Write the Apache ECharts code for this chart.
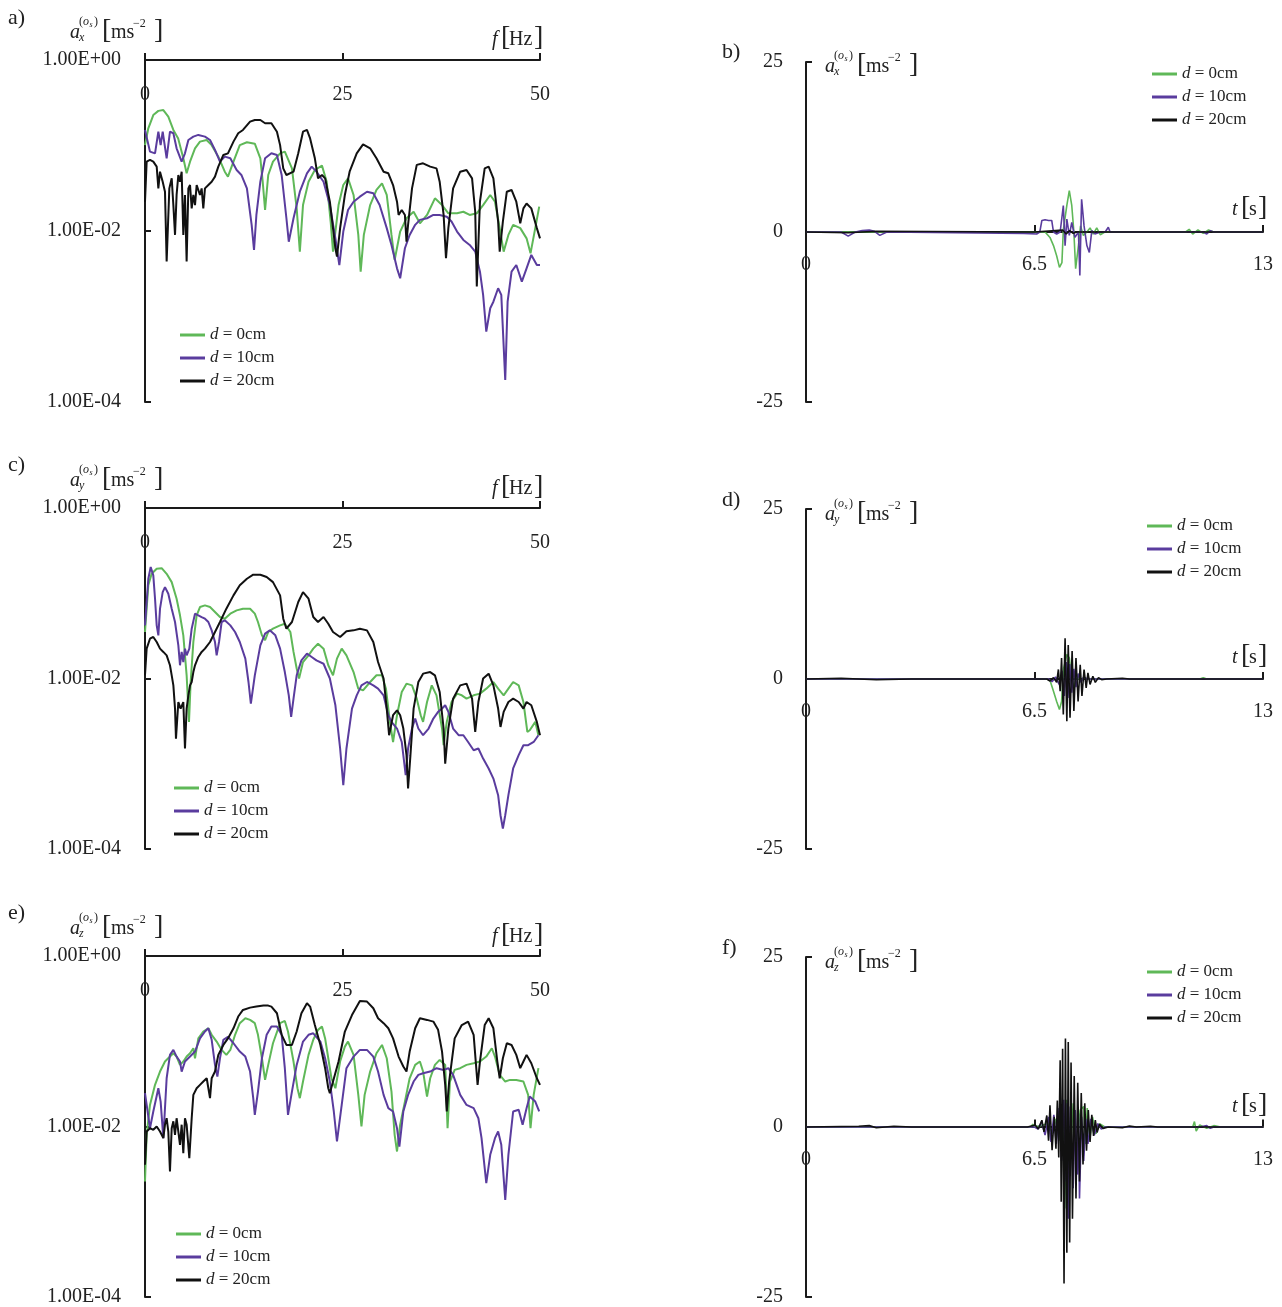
<!DOCTYPE html>
<html><head><meta charset="utf-8">
<script src="https://cdn.jsdelivr.net/npm/echarts@6/dist/echarts.min.js"></script>
<style>html,body{margin:0;padding:0;background:#fff;}#c{width:1282px;height:1307px;}</style>
</head><body><div id="c"></div>
<script>
// ---------- tick labels ----------
const freqTicks = [0, 25, 50];
const timeTicks = [0, 6.5, 13];
const logTicks = [1e-4, 1e-2, 1];
const accTicks = [-25, 0, 25];
const seriesNames = ['d = 0cm', 'd = 10cm', 'd = 20cm'];

// ---------- a) a_x spectrum [f Hz, amplitude] ----------
const aX_d0 = [[0,0.101],[0.42,0.159],[1.05,0.227],[1.69,0.254],[2.32,0.26],[2.95,0.218],[3.59,0.152],[4.2,0.121],[4.85,0.0708],[5.27,0.0473],[5.7,0.0647],[6.33,0.0927],[6.96,0.111],[7.8,0.116],[8.44,0.101],[9.28,0.0741],[10.1,0.0494],[10.5,0.0432],[11.2,0.0647],[12.0,0.101],[12.9,0.109],[13.9,0.105],[14.6,0.0708],[14.9,0.0377],[15.2,0.0176],[15.6,0.0452],[16.2,0.0647],[17.1,0.081],[17.7,0.0848],[18.6,0.054],[19.2,0.0184],[19.6,0.00574],[20.0,0.0201],[20.7,0.0377],[21.5,0.0517],[22.4,0.0582],[23.0,0.0377],[23.5,0.0129],[23.8,0.00574],[24.5,0.0201],[25.1,0.0345],[25.7,0.0413],[26.4,0.0264],[27.0,0.009],[27.3,0.00335],[27.7,0.009],[28.5,0.0201],[29.3,0.0302],[30.0,0.0361],[30.6,0.0264],[31.2,0.009],[31.6,0.00458],[32.3,0.00985],[33.1,0.0141],[34.0,0.0168],[34.8,0.0123],[35.7,0.0154],[36.7,0.0241],[37.6,0.0201],[38.4,0.0161],[39.5,0.0161],[40.3,0.0168],[41.1,0.0154],[42.0,0.0161],[42.8,0.0201],[43.7,0.0264],[44.3,0.022],[44.9,0.0108],[45.4,0.00574],[46.0,0.009],[46.6,0.0118],[47.5,0.0108],[48.3,0.0082],[48.8,0.00548],[49.4,0.0108],[49.9,0.0193]];
const aX_d10 = [[0,0.152],[0.63,0.0848],[1.27,0.081],[1.69,0.145],[1.98,0.101],[2.24,0.145],[2.74,0.0708],[3.16,0.145],[3.59,0.139],[4.0,0.0927],[4.64,0.0647],[5.06,0.081],[5.49,0.116],[6.12,0.127],[6.75,0.133],[7.59,0.127],[8.23,0.116],[8.86,0.0887],[9.49,0.0647],[10.1,0.0741],[10.8,0.0708],[11.6,0.0517],[12.2,0.0452],[12.9,0.0315],[13.5,0.0118],[13.8,0.006],[14.1,0.0154],[14.6,0.0377],[15.2,0.0708],[16.0,0.081],[16.7,0.0775],[17.3,0.0452],[17.9,0.0141],[18.2,0.0075],[18.8,0.0141],[19.6,0.0288],[20.5,0.0473],[21.1,0.0566],[21.7,0.0494],[22.6,0.0377],[23.4,0.0201],[24.1,0.0082],[24.6,0.004],[25.1,0.00985],[25.7,0.0176],[26.4,0.022],[27.2,0.0252],[28.1,0.0288],[28.9,0.0276],[29.7,0.0201],[30.6,0.0108],[31.2,0.00687],[31.9,0.00366],[32.3,0.0028],[32.9,0.00628],[33.5,0.009],[34.2,0.0118],[34.8,0.0135],[35.7,0.0141],[36.5,0.0154],[37.3,0.0154],[38.2,0.0147],[38.8,0.0129],[39.5,0.00985],[40.3,0.00786],[41.1,0.00687],[41.8,0.00574],[42.4,0.00335],[42.8,0.00179],[43.2,0.000665],[43.7,0.00125],[44.1,0.00149],[44.7,0.00214],[45.1,0.00179],[45.6,0.000181],[45.9,0.00149],[46.4,0.00335],[47.0,0.004],[47.7,0.00256],[48.3,0.00366],[48.9,0.00525],[49.6,0.004],[50,0.004]];
const aX_d20 = [[0,0.022],[0.21,0.0647],[0.63,0.0678],[1.05,0.0647],[1.48,0.0566],[1.69,0.0315],[1.9,0.0494],[2.24,0.0377],[2.53,0.0288],[2.74,0.00439],[3.08,0.0315],[3.38,0.0413],[3.59,0.0201],[3.8,0.009],[4.0,0.0264],[4.22,0.0452],[4.43,0.0377],[4.64,0.0494],[4.85,0.009],[5.06,0.0264],[5.27,0.00439],[5.49,0.0315],[5.7,0.0345],[5.91,0.0184],[6.12,0.0264],[6.33,0.0201],[6.54,0.0345],[6.96,0.0264],[7.17,0.0315],[7.38,0.0184],[7.59,0.0315],[8.02,0.0345],[8.44,0.0377],[8.86,0.0432],[9.28,0.0566],[9.92,0.0775],[10.5,0.081],[11.2,0.111],[11.8,0.139],[12.4,0.152],[13.3,0.19],[13.9,0.199],[14.6,0.199],[15.2,0.182],[16.0,0.182],[16.7,0.145],[17.1,0.101],[17.5,0.054],[17.9,0.0452],[18.8,0.0494],[19.4,0.081],[20.0,0.145],[20.5,0.152],[20.9,0.121],[21.5,0.0708],[21.9,0.0413],[22.4,0.0452],[22.8,0.0413],[23.4,0.022],[24.1,0.00628],[24.3,0.00501],[24.7,0.0108],[25.3,0.0264],[25.9,0.0494],[26.8,0.081],[27.6,0.103],[28.5,0.0927],[29.3,0.0708],[30.2,0.0494],[30.8,0.0473],[31.4,0.0345],[31.9,0.022],[32.1,0.0154],[32.5,0.0176],[32.9,0.0154],[33.1,0.0075],[33.3,0.0118],[33.8,0.0315],[34.4,0.0593],[35.2,0.0619],[36.1,0.0566],[36.9,0.054],[37.3,0.0377],[37.8,0.0154],[38.1,0.0048],[38.4,0.0108],[39.0,0.0315],[39.9,0.0494],[40.7,0.0517],[41.4,0.0413],[41.8,0.0168],[42.0,0.00224],[42.4,0.022],[43.0,0.054],[43.5,0.0566],[44.1,0.0413],[44.7,0.0129],[44.9,0.00574],[45.3,0.0129],[45.8,0.0288],[46.4,0.0302],[47.0,0.022],[47.5,0.0123],[47.9,0.0184],[48.3,0.021],[48.9,0.0184],[49.6,0.0108],[50,0.0082]];

// ---------- c) a_y spectrum ----------
const aY_d0 = [[0,0.0351],[0.42,0.124],[0.84,0.169],[1.48,0.194],[2.11,0.197],[2.74,0.169],[3.38,0.135],[4.0,0.0863],[4.43,0.0551],[4.85,0.0321],[5.27,0.0109],[5.57,0.0031],[5.78,0.0091],[6.12,0.0268],[6.54,0.0551],[6.96,0.0689],[7.59,0.0721],[8.23,0.0689],[8.86,0.0603],[9.49,0.0526],[10.1,0.0503],[10.8,0.0576],[11.6,0.063],[12.4,0.0659],[13.3,0.0659],[13.9,0.0576],[14.3,0.046],[14.8,0.0321],[15.2,0.0281],[15.6,0.0351],[16.2,0.0384],[17.1,0.042],[17.7,0.0439],[18.4,0.0351],[18.8,0.0205],[19.2,0.0131],[19.5,0.01],[20.0,0.0156],[20.7,0.0187],[21.3,0.0224],[21.9,0.0256],[22.6,0.0224],[23.2,0.0143],[23.8,0.0109],[24.3,0.0171],[24.9,0.0224],[25.5,0.0187],[26.4,0.0119],[27.0,0.0076],[27.6,0.00727],[28.5,0.0091],[29.3,0.0109],[30.0,0.0109],[30.5,0.0076],[31.0,0.0031],[31.4,0.0018],[31.9,0.00371],[32.5,0.00695],[33.1,0.0087],[33.8,0.0083],[34.4,0.0058],[34.9,0.00371],[35.2,0.0031],[35.7,0.0053],[36.3,0.0083],[36.9,0.00635],[37.6,0.00259],[37.8,0.00165],[38.2,0.0031],[38.8,0.0053],[39.5,0.00665],[40.1,0.00635],[40.7,0.0058],[41.6,0.00635],[42.4,0.00665],[43.2,0.0076],[44.1,0.0091],[44.7,0.0076],[45.4,0.00635],[46.0,0.0076],[46.6,0.0091],[47.3,0.0083],[47.9,0.0053],[48.4,0.00236],[48.7,0.00247],[49.4,0.0031],[49.8,0.00216]];
const aY_d10 = [[0,0.042],[0.42,0.148],[0.72,0.203],[1.05,0.162],[1.27,0.0863],[1.48,0.042],[1.69,0.0321],[1.9,0.0659],[2.24,0.103],[2.53,0.118],[2.95,0.0988],[3.38,0.0659],[3.8,0.046],[4.22,0.0245],[4.43,0.0143],[4.64,0.0205],[4.85,0.0156],[5.06,0.0224],[5.27,0.0187],[5.61,0.0224],[5.91,0.0384],[6.33,0.0576],[6.75,0.0551],[7.17,0.0526],[7.59,0.0503],[8.02,0.046],[8.44,0.0367],[8.86,0.0268],[9.07,0.0187],[9.37,0.0268],[9.7,0.046],[10.1,0.0481],[10.8,0.042],[11.4,0.0351],[12.0,0.0268],[12.7,0.0171],[13.1,0.0091],[13.4,0.00507],[13.9,0.0109],[14.6,0.0245],[15.2,0.0336],[15.8,0.0367],[16.5,0.0321],[17.1,0.0224],[17.7,0.0119],[18.2,0.00635],[18.5,0.00354],[18.8,0.0058],[19.2,0.0109],[19.8,0.0163],[20.5,0.0196],[21.1,0.0179],[21.7,0.0163],[22.6,0.0149],[23.4,0.01],[24.1,0.00485],[24.7,0.00151],[25.1,0.00056],[25.5,0.00151],[26.2,0.00444],[26.8,0.00635],[27.4,0.0083],[28.1,0.0091],[28.9,0.0083],[29.5,0.0076],[30.2,0.00635],[30.8,0.00371],[31.2,0.0031],[31.9,0.00259],[32.5,0.0018],[33.0,0.000734],[33.3,0.00151],[33.8,0.00259],[34.2,0.00339],[34.6,0.00259],[35.2,0.00216],[35.9,0.00259],[36.5,0.00339],[37.1,0.00406],[37.6,0.00444],[38.0,0.00485],[38.4,0.00406],[39.0,0.00259],[39.7,0.00216],[40.3,0.00216],[40.9,0.0018],[41.6,0.00144],[42.2,0.00151],[42.8,0.00115],[43.5,0.00088],[44.1,0.00067],[44.7,0.000428],[45.0,0.000249],[45.3,0.000174],[45.6,0.000249],[46.0,0.000428],[46.6,0.00088],[47.3,0.00126],[47.9,0.00165],[48.5,0.00165],[49.2,0.0018],[49.8,0.00216]];
const aY_d20 = [[0,0.0109],[0.21,0.0224],[0.63,0.0293],[1.05,0.0307],[1.48,0.0268],[1.9,0.0224],[2.32,0.0205],[2.74,0.0187],[3.16,0.0143],[3.38,0.0109],[3.59,0.0083],[3.8,0.00444],[3.92,0.00197],[4.22,0.0053],[4.51,0.00444],[4.85,0.0053],[5.06,0.00151],[5.27,0.00444],[5.49,0.00635],[5.7,0.0083],[5.91,0.0091],[6.12,0.0119],[6.33,0.0143],[6.75,0.0179],[7.17,0.0205],[7.59,0.0224],[8.23,0.0268],[8.86,0.0351],[9.49,0.046],[10.3,0.0659],[11.2,0.0944],[12.0,0.124],[12.9,0.148],[13.7,0.165],[14.6,0.165],[15.4,0.155],[16.2,0.135],[17.1,0.0944],[17.5,0.0503],[17.9,0.0384],[18.6,0.046],[19.4,0.0789],[20.0,0.103],[20.7,0.0863],[21.3,0.0526],[21.9,0.046],[22.6,0.0526],[23.2,0.0439],[23.8,0.0351],[24.7,0.0307],[25.5,0.0358],[26.4,0.0367],[27.2,0.0384],[28.1,0.0367],[28.9,0.0268],[29.5,0.0156],[30.2,0.01],[30.6,0.00444],[30.9,0.00216],[31.4,0.00371],[31.9,0.00424],[32.3,0.00371],[32.7,0.00259],[33.1,0.00126],[33.3,0.000512],[33.6,0.00126],[34.0,0.00444],[34.6,0.0091],[35.2,0.0114],[36.1,0.0119],[36.7,0.0109],[37.3,0.00695],[37.8,0.00259],[38.0,0.001],[38.4,0.00259],[39.0,0.0058],[39.9,0.0083],[40.7,0.0087],[41.4,0.0058],[41.8,0.00236],[42.2,0.0053],[42.8,0.01],[43.5,0.0114],[44.1,0.0083],[44.7,0.00444],[45.0,0.0027],[45.4,0.00406],[46.0,0.0053],[46.6,0.0058],[47.3,0.0053],[47.9,0.00444],[48.3,0.0053],[48.9,0.00485],[49.6,0.0031],[50,0.00216]];

// ---------- e) a_z spectrum ----------
const aZ_d0 = [[0,0.00226],[0.21,0.00798],[0.63,0.0179],[1.27,0.0308],[1.9,0.0441],[2.53,0.0578],[3.16,0.0661],[3.59,0.0723],[4.0,0.0661],[4.43,0.0528],[4.85,0.0578],[5.27,0.0661],[5.7,0.0723],[6.12,0.0828],[6.33,0.0632],[6.75,0.108],[7.38,0.13],[8.02,0.142],[8.44,0.119],[9.07,0.0991],[9.7,0.0791],[10.3,0.0692],[10.8,0.0791],[11.4,0.119],[12.0,0.163],[12.7,0.186],[13.3,0.178],[13.9,0.163],[14.3,0.119],[14.8,0.0632],[15.2,0.0352],[15.6,0.0528],[16.2,0.0947],[17.1,0.163],[17.7,0.173],[18.1,0.13],[18.8,0.0578],[19.3,0.0281],[19.6,0.0215],[20.0,0.0337],[20.7,0.0692],[21.3,0.104],[21.9,0.136],[22.4,0.149],[22.8,0.108],[23.2,0.0632],[23.6,0.0368],[24.1,0.0281],[24.7,0.0578],[25.3,0.0865],[25.7,0.0991],[26.4,0.0692],[27.0,0.0235],[27.4,0.01],[27.8,0.0235],[28.5,0.0441],[29.3,0.0723],[30.0,0.0905],[30.6,0.0632],[31.2,0.0257],[31.6,0.00798],[31.9,0.00509],[32.3,0.0105],[32.9,0.0196],[33.5,0.0368],[34.2,0.0528],[34.8,0.0578],[35.2,0.0441],[35.7,0.0225],[36.1,0.0368],[36.7,0.0528],[37.3,0.0604],[38.0,0.0528],[38.3,0.00955],[38.6,0.0337],[39.2,0.0461],[39.9,0.0483],[40.7,0.0528],[41.6,0.0552],[42.4,0.0578],[43.2,0.0661],[43.9,0.0828],[44.3,0.0661],[44.9,0.0403],[45.6,0.0337],[46.2,0.0352],[47.0,0.0352],[47.9,0.0337],[48.5,0.0235],[48.8,0.00955],[49.2,0.0235],[49.8,0.0483]];
const aZ_d10 = [[0,0.0246],[0.63,0.00955],[1.05,0.015],[1.69,0.0281],[1.98,0.0196],[2.32,0.0073],[2.74,0.0368],[3.16,0.0692],[3.59,0.0791],[4.0,0.0661],[4.43,0.0578],[4.64,0.0441],[5.06,0.0578],[5.7,0.0661],[6.33,0.0757],[6.96,0.108],[7.59,0.13],[8.02,0.142],[8.44,0.104],[8.86,0.0528],[9.16,0.0385],[9.49,0.0632],[9.92,0.104],[10.5,0.113],[11.2,0.0947],[12.0,0.0757],[12.7,0.0661],[13.3,0.0441],[13.7,0.0215],[13.9,0.0137],[14.3,0.0257],[14.8,0.0632],[15.4,0.119],[16.0,0.149],[16.7,0.149],[17.3,0.119],[17.7,0.0483],[18.1,0.0137],[18.6,0.0257],[19.2,0.0528],[20.0,0.0991],[20.7,0.119],[21.3,0.124],[22.2,0.0991],[22.8,0.0632],[23.4,0.0337],[23.9,0.015],[24.3,0.00667],[24.9,0.0179],[25.5,0.0483],[26.4,0.0661],[27.2,0.0791],[28.1,0.0791],[28.9,0.0661],[29.5,0.0441],[30.2,0.0235],[30.8,0.0164],[31.4,0.015],[31.9,0.00955],[32.2,0.00582],[32.7,0.015],[33.3,0.0235],[34.0,0.0337],[34.6,0.0403],[35.2,0.0422],[36.1,0.0441],[36.9,0.0483],[37.8,0.0461],[38.4,0.0483],[39.0,0.0403],[39.9,0.0235],[40.7,0.0179],[41.6,0.0164],[42.2,0.0125],[42.6,0.0073],[43.0,0.00325],[43.2,0.00217],[43.7,0.00466],[44.3,0.0073],[44.7,0.00873],[45.1,0.0061],[45.6,0.00138],[46.0,0.00466],[46.6,0.015],[47.3,0.0157],[47.8,0.0105],[48.3,0.0164],[48.7,0.0225],[49.4,0.0196],[49.9,0.015]];
const aZ_d20 = [[0,0.00356],[0.21,0.00873],[0.63,0.00955],[1.05,0.00914],[1.48,0.01],[1.9,0.00873],[2.32,0.0073],[2.53,0.0105],[2.74,0.0125],[2.95,0.00873],[3.16,0.00297],[3.38,0.00955],[3.59,0.0115],[3.8,0.00798],[4.0,0.0125],[4.22,0.00873],[4.43,0.0061],[4.64,0.0105],[4.85,0.00487],[5.06,0.0125],[5.27,0.0105],[5.61,0.00425],[5.91,0.0125],[6.12,0.0235],[6.54,0.0281],[6.96,0.0308],[7.38,0.0337],[7.81,0.0368],[8.23,0.0215],[8.44,0.0368],[8.86,0.0441],[9.28,0.0692],[9.92,0.0905],[10.5,0.108],[11.2,0.142],[11.8,0.195],[12.4,0.233],[13.3,0.248],[14.1,0.255],[15.0,0.262],[15.6,0.262],[16.0,0.255],[16.7,0.213],[17.3,0.119],[17.9,0.0905],[18.6,0.0905],[19.2,0.13],[19.8,0.213],[20.5,0.279],[20.9,0.255],[21.5,0.155],[22.2,0.0905],[22.8,0.0483],[23.2,0.0281],[23.4,0.0246],[23.8,0.0337],[24.5,0.0578],[25.3,0.13],[26.2,0.203],[27.2,0.297],[28.1,0.292],[28.9,0.244],[29.5,0.186],[30.2,0.163],[30.8,0.142],[31.4,0.108],[32.1,0.0661],[32.7,0.0505],[33.1,0.0441],[33.5,0.0757],[34.2,0.142],[34.8,0.186],[35.7,0.178],[36.5,0.17],[37.1,0.136],[37.6,0.0757],[38.0,0.0308],[38.2,0.015],[38.5,0.0337],[39.2,0.108],[40.1,0.155],[40.9,0.17],[41.6,0.119],[41.9,0.0528],[42.1,0.0308],[42.4,0.0578],[43.0,0.155],[43.5,0.186],[44.1,0.142],[44.6,0.0578],[44.9,0.0368],[45.3,0.0632],[45.8,0.0947],[46.4,0.0905],[47.0,0.0692],[47.5,0.0483],[47.9,0.0578],[48.3,0.0692],[48.9,0.0552],[49.6,0.0368],[50,0.0308]];

// ---------- b) a_x time history [t s, acceleration] ----------
const tX_d0 = [[0,0],[6.8,0],[6.85,-0.1],[6.94,-0.8],[7.04,-2.0],[7.13,-3.5],[7.21,-5.2],[7.28,-4.5],[7.32,0.3],[7.42,3.9],[7.49,6.1],[7.56,3.9],[7.62,0],[7.67,-5.4],[7.75,-2.0],[7.81,0.9],[7.89,-0.5],[7.99,0],[8.08,0.6],[8.17,-0.3],[8.27,0.6],[8.37,-0.4],[8.5,0],[10.8,0],[10.9,0.4],[11.0,-0.3],[11.15,0.3],[11.3,-0.2],[11.45,0.3],[11.6,0],[13,0]];
const tX_d10 = [[0,0],[1.0,0],[1.2,-0.6],[1.4,0],[1.6,0.2],[1.8,0.3],[1.95,0.1],[2.1,-0.5],[2.3,0],[6.2,-0.2],[6.56,-0.3],[6.65,0],[6.71,1.7],[6.8,1.8],[6.9,1.7],[6.99,1.7],[7.04,0],[7.13,-0.3],[7.23,0],[7.32,3.9],[7.37,-2.0],[7.42,1.9],[7.49,-0.5],[7.56,1.4],[7.65,-0.8],[7.75,0],[7.79,-6.4],[7.84,4.8],[7.91,0.9],[7.99,-2.0],[8.06,-3.0],[8.13,0.2],[8.22,-0.3],[8.37,0],[8.51,0],[8.6,0.7],[8.65,0],[11.3,0],[11.4,-0.3],[11.5,0.2],[11.6,0],[13,0]];
const tX_d20 = [[0,0],[1.2,-0.1],[2.0,0.1],[6.5,0],[7.3,0.3],[7.4,-0.3],[7.5,0.2],[7.6,-0.2],[7.7,0],[13,0]];

// ---------- d) a_y time history ----------
const tY_d0 = [[0,0],[6.85,0],[6.94,-0.2],[7.04,-1.8],[7.13,-3.3],[7.21,-4.5],[7.27,-3.3],[7.33,1.6],[7.42,3.6],[7.49,3.1],[7.56,0],[7.62,-1.5],[7.7,0.8],[7.8,-0.4],[7.9,0.2],[8.0,0],[11.2,0],[11.3,0.2],[11.4,0],[13,0]];
const tY_d10 = [[0,0],[6.9,0],[7.0,-0.4],[7.1,0.3],[7.2,-0.8],[7.28,1.2],[7.35,-2.5],[7.4,2.5],[7.45,-2.8],[7.5,2.2],[7.56,-2.0],[7.62,1.5],[7.68,-1.2],[7.75,0.8],[7.82,-0.5],[7.9,0.3],[8.0,0],[13,0]];
const tY_d20 = [[0,0],[1.0,0.1],[2.0,-0.1],[3.0,0],[6.85,0],[6.94,-0.3],[7.04,0.2],[7.13,-0.5],[7.18,1.4],[7.23,-1.8],[7.27,3.1],[7.32,-5.2],[7.37,6.0],[7.42,-6.2],[7.46,5.0],[7.51,-5.7],[7.57,4.1],[7.62,-4.7],[7.68,3.1],[7.74,-3.3],[7.80,2.1],[7.85,-2.5],[7.91,1.4],[7.97,-1.3],[8.02,0.9],[8.08,-0.8],[8.16,0.4],[8.23,-0.5],[8.32,0.2],[8.41,-0.1],[8.55,0],[9.0,0.1],[9.2,0],[13,0]];

// ---------- f) a_z time history ----------
const tZ_d0 = [[0,0],[6.4,0],[6.45,0.4],[6.5,0],[6.9,0.5],[7.0,-1],[7.1,1.2],[7.2,-2],[7.3,3],[7.36,-12],[7.42,4],[7.5,-6],[7.6,3.5],[7.7,-3],[7.8,2.5],[7.9,3.0],[7.95,-2.5],[8.0,2.8],[8.07,-2],[8.15,1.5],[8.25,-1],[8.35,0.5],[8.5,0],[11.0,0],[11.05,0.8],[11.1,-0.6],[11.2,0.3],[11.4,-0.2],[11.6,0.2],[11.8,0],[13,0]];
const tZ_d10 = [[0,0],[6.5,0],[6.6,-0.3],[6.7,0.8],[6.8,-1.2],[6.9,1.5],[6.97,-2.2],[7.05,1.8],[7.12,-2.5],[7.2,2.8],[7.27,-5],[7.33,4],[7.4,-8],[7.43,3.5],[7.46,-13.5],[7.52,3],[7.6,-9],[7.66,2.5],[7.72,-7],[7.75,2],[7.78,-10.5],[7.84,1.5],[7.9,-5],[7.96,1.2],[8.02,-2.5],[8.1,1.2],[8.2,-1.2],[8.3,0.5],[8.4,-0.3],[8.5,0],[11.2,0],[11.4,0.2],[11.5,-0.2],[11.6,0],[13,0]];
const tZ_d20 = [[0,0],[1.5,0.1],[1.8,0.2],[2.0,-0.1],[2.5,0.1],[3.0,0],[6.3,0],[6.52,0.3],[6.61,-0.3],[6.71,1.0],[6.77,-0.7],[6.85,1.7],[6.9,-2.0],[6.94,3.2],[7.0,-3.4],[7.06,1.5],[7.11,-3.2],[7.15,3.9],[7.19,-4.5],[7.23,9.8],[7.26,-11],[7.30,11.5],[7.34,-23],[7.38,13],[7.42,-18.5],[7.46,12.5],[7.50,-17],[7.54,9.5],[7.58,-13.5],[7.63,7.5],[7.68,-10.5],[7.73,6.5],[7.78,-8],[7.83,5],[7.88,-5.5],[7.93,3.5],[7.98,-3.5],[8.03,2.5],[8.08,-2.2],[8.13,1.8],[8.18,-1.3],[8.23,1],[8.28,-0.8],[8.35,0.4],[8.45,-0.2],[8.6,0],[9.0,-0.1],[9.2,0.15],[9.4,0],[9.8,0.1],[10,0],[13,0]];

// ---------- styling ----------
const SERIF = '"Liberation Serif", "DejaVu Serif", serif';
const COLORS = ['#5fb858', '#5a3c9e', '#111111'];
const AX = '#1a1a1a';

const panels = [
  { kind: 'spec', grid: { left: 145, top: 60, width: 395, height: 342 }, data: [aX_d0, aX_d10, aX_d20], legend: [175, 321] },
  { kind: 'time', grid: { left: 806, top: 62, width: 457, height: 340 }, data: [tX_d0, tX_d10, tX_d20], legend: [1147, 60] },
  { kind: 'spec', grid: { left: 145, top: 508, width: 395, height: 341 }, data: [aY_d0, aY_d10, aY_d20], legend: [169, 774] },
  { kind: 'time', grid: { left: 806, top: 509, width: 457, height: 340 }, data: [tY_d0, tY_d10, tY_d20], legend: [1142, 512] },
  { kind: 'spec', grid: { left: 145, top: 956, width: 395, height: 341 }, data: [aZ_d0, aZ_d10, aZ_d20], legend: [171, 1220] },
  { kind: 'time', grid: { left: 806, top: 957, width: 457, height: 341 }, data: [tZ_d0, tZ_d10, tZ_d20], legend: [1142, 958] }
];

const labelStyle = { fontFamily: SERIF, fontSize: 20, color: '#222' };
const lineAx = { show: true, onZero: false, lineStyle: { color: AX, width: 2 } };

function expLabel(v) {
  const e = Math.round(Math.log10(v));
  return '1.00E' + (e < 0 ? '-' : '+') + String(Math.abs(e)).padStart(2, '0');
}

const grid = [], xAxis = [], yAxis = [], series = [], legend = [];
panels.forEach((p, i) => {
  grid.push(Object.assign({ containLabel: false }, p.grid));
  if (p.kind === 'spec') {
    xAxis.push({
      gridIndex: i, type: 'value', position: 'top',
      min: freqTicks[0], max: freqTicks[freqTicks.length - 1], interval: freqTicks[1] - freqTicks[0],
      axisLine: lineAx,
      axisTick: { show: true, inside: false, length: 7, lineStyle: { color: AX, width: 2 } },
      axisLabel: Object.assign({ inside: true, margin: 25, showMinLabel: true, showMaxLabel: true }, labelStyle),
      splitLine: { show: false }
    });
    yAxis.push({
      gridIndex: i, type: 'log', logBase: 10,
      min: logTicks[0], max: logTicks[logTicks.length - 1], interval: 2,
      axisLine: lineAx,
      axisTick: { show: true, inside: true, length: 6, lineStyle: { color: AX, width: 2 } },
      axisLabel: Object.assign({ margin: 24, formatter: expLabel }, labelStyle),
      splitLine: { show: false }, minorTick: { show: false }
    });
  } else {
    // zero line sits at mid-height of the symmetric acceleration range
    xAxis.push({
      gridIndex: i, type: 'value', position: 'bottom', offset: -p.grid.height / 2,
      min: timeTicks[0], max: timeTicks[timeTicks.length - 1], interval: timeTicks[1] - timeTicks[0],
      axisLine: { show: true, onZero: false, lineStyle: { color: AX, width: 2 } },
      axisTick: { show: true, inside: true, length: 7, lineStyle: { color: AX, width: 2 } },
      axisLabel: Object.assign({ margin: 23, showMinLabel: true, showMaxLabel: true }, labelStyle),
      splitLine: { show: false }
    });
    yAxis.push({
      gridIndex: i, type: 'value',
      min: accTicks[0], max: accTicks[accTicks.length - 1], interval: accTicks[1] - accTicks[0],
      axisLine: lineAx,
      axisTick: { show: true, inside: true, length: 6, lineStyle: { color: AX, width: 2 } },
      axisLabel: Object.assign({ margin: 23 }, labelStyle),
      splitLine: { show: false }
    });
  }
  p.data.forEach((d, k) => {
    series.push({
      type: 'line', name: seriesNames[k], xAxisIndex: i, yAxisIndex: i, data: d,
      showSymbol: false, symbol: 'none', smooth: false, clip: true,
      lineStyle: { color: COLORS[k], width: p.kind === 'spec' ? 2 : 1.6 },
      itemStyle: { color: COLORS[k] }, z: 2 + k
    });
  });
  legend.push({
    data: seriesNames, orient: 'vertical', left: p.legend[0], top: p.legend[1],
    icon: 'rect', itemWidth: 25, itemHeight: 3, itemGap: 5, selectedMode: false,
    formatter: n => '{i|d}' + n.slice(1),
    textStyle: { fontFamily: SERIF, fontSize: 17, color: '#222', lineHeight: 18,
      rich: { i: { fontFamily: SERIF, fontSize: 17, fontStyle: 'italic', color: '#222' } } }
  });
});

// ---------- text annotations ----------
function txt(x, y, s, size, extra) {
  return { type: 'text', x: x, y: y, silent: true, z: 50,
    style: Object.assign({ text: s, fontSize: size, fontFamily: SERIF, fill: '#222', align: 'left', verticalAlign: 'middle' }, extra || {}) };
}
const IT = { fontStyle: 'italic' };
function accName(x0, yc, comp) {
  return [
    txt(x0, yc + 3, 'a', 20, IT),
    txt(x0 + 9, yc - 8, '(', 12), txt(x0 + 13, yc - 8, 'o', 12, IT), txt(x0 + 19.5, yc - 5, 's', 8, IT), txt(x0 + 24, yc - 8, ')', 12),
    txt(x0 + 9, yc + 8, comp, 12, IT),
    txt(x0 + 32, yc + 1, '[', 28),
    txt(x0 + 41, yc + 3, 'ms', 20),
    txt(x0 + 63, yc - 6, '\u22122', 12),
    txt(x0 + 84, yc + 1, ']', 28)
  ];
}
function unitName(x0, yc, sym, unit, uw) {
  return [
    txt(x0, yc + 2, sym, 20, IT),
    txt(x0 + 9, yc, '[', 28),
    txt(x0 + 17, yc + 2, unit, 20),
    txt(x0 + 18 + uw, yc, ']', 28)
  ];
}
const graphic = [].concat(
  txt(8, 18, 'a)', 22), txt(722, 52, 'b)', 22), txt(8, 465, 'c)', 22),
  txt(722, 500, 'd)', 22), txt(8, 913, 'e)', 22), txt(722, 948, 'f)', 22),
  accName(70, 30, 'x'), accName(825, 64, 'x'),
  accName(70, 478, 'y'), accName(825, 512, 'y'),
  accName(70, 926, 'z'), accName(825, 960, 'z'),
  unitName(492, 38, 'f', 'Hz', 24), unitName(492, 487, 'f', 'Hz', 24), unitName(492, 935, 'f', 'Hz', 24),
  unitName(1232, 208, 't', 's', 8), unitName(1232, 656, 't', 's', 8), unitName(1232, 1105, 't', 's', 8)
);

const chart = echarts.init(document.getElementById('c'), null, { renderer: 'canvas' });
chart.setOption({
  backgroundColor: '#ffffff', animation: false,
  grid, xAxis, yAxis, series, legend, graphic
});
</script>
</body></html>
